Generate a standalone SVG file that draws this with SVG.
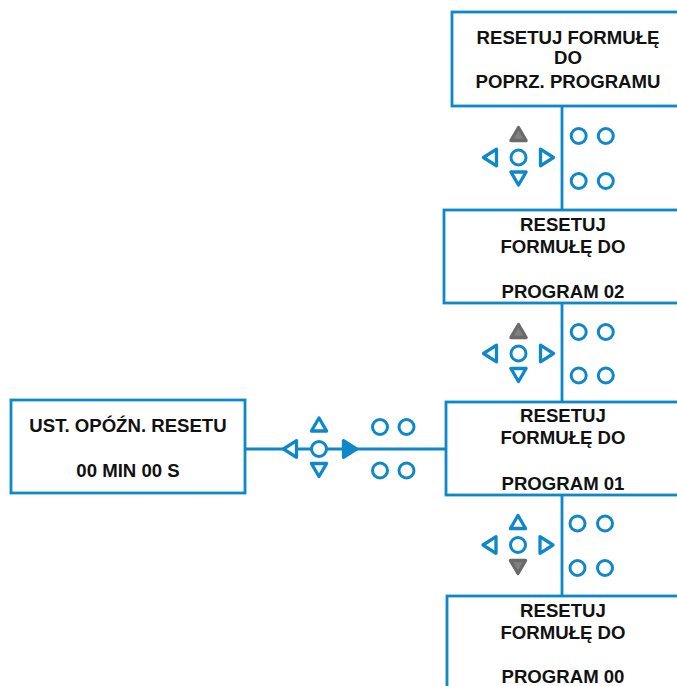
<svg xmlns="http://www.w3.org/2000/svg" width="677" height="686" viewBox="0 0 677 686">
<defs>
<style>
.box{fill:#fff;stroke:#0e88c8;stroke-width:2.8}
.ln{stroke:#0e88c8;stroke-width:2.8;fill:none}
.b{fill:#fff;stroke:#0e88c8;stroke-width:3;stroke-linejoin:round}
.t{fill:#fff;stroke:#0e88c8;stroke-width:3.3;stroke-linejoin:round}
.on{fill:#808080;stroke:#6a6a6a;stroke-width:3.3;stroke-linejoin:round}
.fb{fill:#0e88c8;stroke:#0e88c8;stroke-width:3.3;stroke-linejoin:round}
text{font-family:"Liberation Sans",Arial,sans-serif;font-weight:bold;font-size:18.6px;fill:#111;text-anchor:middle}
</style>
</defs>
<rect width="677" height="686" fill="#fff"/>
<g id="connectors">
<line class="ln" x1="562" y1="106" x2="562" y2="210"/>
<line class="ln" x1="562" y1="303" x2="562" y2="402"/>
<line class="ln" x1="562" y1="495" x2="562" y2="596"/>
<line class="ln" x1="245" y1="449" x2="446" y2="449"/>
</g>
<g id="node-poprz">
<rect class="box" x="452" y="12" width="240" height="94"/>
<text x="568" y="43.5">RESETUJ FORMUŁĘ</text>
<text x="568" y="63.5">DO</text>
<text x="568" y="88">POPRZ. PROGRAMU</text>
</g>
<g id="node-p02">
<rect class="box" x="444" y="210" width="248" height="93"/>
<text x="563" y="230.5">RESETUJ</text>
<text x="563" y="253">FORMUŁĘ DO</text>
<text x="563" y="298">PROGRAM 02</text>
</g>
<g id="node-p01">
<rect class="box" x="446" y="402" width="246" height="93"/>
<text x="563" y="422">RESETUJ</text>
<text x="563" y="444">FORMUŁĘ DO</text>
<text x="563" y="490">PROGRAM 01</text>
</g>
<g id="node-p00">
<rect class="box" x="447" y="596" width="246" height="100"/>
<text x="563" y="616.5">RESETUJ</text>
<text x="563" y="638.5">FORMUŁĘ DO</text>
<text x="563" y="683">PROGRAM 00</text>
</g>
<g id="node-delay">
<rect class="box" x="11" y="400" width="234" height="93"/>
<text x="128" y="431.5">UST. OPÓŹN. RESETU</text>
<text x="128" y="476.5">00 MIN 00 S</text>
</g>
<g id="keypad-1" transform="translate(518.5,157.5)">
<path class="on" d="M0,-30 L7.6,-17 L-7.6,-17 Z"/>
<path class="t" d="M-35,0 L-22,-8.3 L-22,8.3 Z"/>
<circle class="b" cx="0" cy="0" r="7.5"/>
<path class="t" d="M35,0 L22,-8.3 L22,8.3 Z"/>
<path class="t" d="M0,27.5 L7.6,14.5 L-7.6,14.5 Z"/>
<circle class="b" cx="60.2" cy="-21.5" r="7.5"/>
<circle class="b" cx="87.3" cy="-21.5" r="7.5"/>
<circle class="b" cx="60.2" cy="23.5" r="7.5"/>
<circle class="b" cx="87.3" cy="23.5" r="7.5"/>
</g>
<g id="keypad-2" transform="translate(518.5,353.5)">
<path class="on" d="M0,-29 L7.6,-16 L-7.6,-16 Z"/>
<path class="t" d="M-35,0 L-22,-8.3 L-22,8.3 Z"/>
<circle class="b" cx="0" cy="0" r="7.5"/>
<path class="t" d="M35,0 L22,-8.3 L22,8.3 Z"/>
<path class="t" d="M0,28 L7.6,15 L-7.6,15 Z"/>
<circle class="b" cx="60.2" cy="-21.5" r="7.5"/>
<circle class="b" cx="87.3" cy="-21.5" r="7.5"/>
<circle class="b" cx="60.2" cy="22" r="7.5"/>
<circle class="b" cx="87.3" cy="22" r="7.5"/>
</g>
<g id="keypad-3" transform="translate(518,545)">
<path class="t" d="M0,-29.5 L7.6,-16.5 L-7.6,-16.5 Z"/>
<path class="t" d="M-35,0 L-22,-8.3 L-22,8.3 Z"/>
<circle class="b" cx="0" cy="0" r="7.5"/>
<path class="t" d="M35,0 L22,-8.3 L22,8.3 Z"/>
<path class="on" d="M0,28.5 L7.6,15.5 L-7.6,15.5 Z"/>
<circle class="b" cx="59.5" cy="-21.5" r="7.5"/>
<circle class="b" cx="87" cy="-21.5" r="7.5"/>
<circle class="b" cx="59.5" cy="23" r="7.5"/>
<circle class="b" cx="87" cy="23" r="7.5"/>
</g>
<g id="keypad-left" transform="translate(319,449)">
<path class="t" d="M0,-31 L7.6,-18 L-7.6,-18 Z"/>
<path class="t" d="M-35.5,0 L-22.5,-8.3 L-22.5,8.3 Z"/>
<circle class="b" cx="0" cy="0" r="7.5"/>
<path class="fb" d="M37.5,0 L24.5,-8.3 L24.5,8.3 Z"/>
<path class="t" d="M0,27.5 L7.6,14.5 L-7.6,14.5 Z"/>
<circle class="b" cx="61" cy="-22" r="7.5"/>
<circle class="b" cx="87.5" cy="-22" r="7.5"/>
<circle class="b" cx="61" cy="21.5" r="7.5"/>
<circle class="b" cx="87.5" cy="21.5" r="7.5"/>
</g>
</svg>
